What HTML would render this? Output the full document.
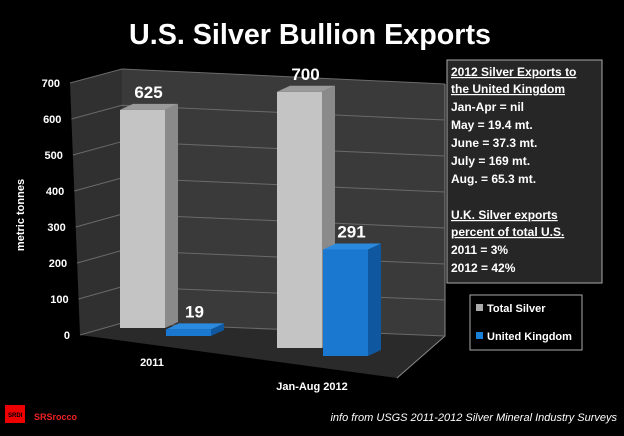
<!DOCTYPE html>
<html><head><meta charset="utf-8"><style>
body{margin:0;background:#000;width:624px;height:431px;overflow:hidden;font-family:"Liberation Sans",sans-serif}
svg text{font-family:"Liberation Sans",sans-serif}
</style></head><body>
<svg width="624" height="431" viewBox="0 0 624 431">
<text x="310" y="44" text-anchor="middle" font-size="29" font-weight="bold" fill="#fff" textLength="362" lengthAdjust="spacingAndGlyphs">U.S. Silver Bullion Exports</text>
<g id="walls"></g>
<g id="ticks"></g>
<g id="bars"></g>
<text transform="translate(24,215) rotate(-90)" text-anchor="middle" font-size="11" font-weight="bold" fill="#fff">metric tonnes</text>
<text x="152" y="366" text-anchor="middle" font-size="11" font-weight="bold" fill="#fff">2011</text>
<text x="312" y="390" text-anchor="middle" font-size="11" font-weight="bold" fill="#fff">Jan-Aug 2012</text>
<g>
<rect x="447" y="60" width="155" height="223" fill="#262626" stroke="#aaa" stroke-width="1"/>
<g font-size="12" font-weight="bold" fill="#fff">
<text x="451" y="76" text-decoration="underline">2012 Silver Exports to</text>
<text x="451" y="93" text-decoration="underline">the United Kingdom</text>
<text x="451" y="111">Jan-Apr = nil</text>
<text x="451" y="129">May = 19.4 mt.</text>
<text x="451" y="147">June = 37.3 mt.</text>
<text x="451" y="165">July = 169 mt.</text>
<text x="451" y="183">Aug. = 65.3 mt.</text>
<text x="451" y="219" text-decoration="underline">U.K. Silver exports</text>
<text x="451" y="236" text-decoration="underline">percent of total U.S.</text>
<text x="451" y="254">2011 = 3%</text>
<text x="451" y="272">2012 = 42%</text>
</g></g>
<g>
<rect x="470" y="295" width="112" height="55" fill="#000" stroke="#aaa"/>
<rect x="476" y="304" width="7" height="7" fill="#aaa"/>
<text x="487" y="312" font-size="11" font-weight="bold" fill="#fff">Total Silver</text>
<rect x="476" y="332" width="7" height="7" fill="#1a7fd6"/>
<text x="487" y="340" font-size="11" font-weight="bold" fill="#fff">United Kingdom</text>
</g>
<g>
<rect x="5" y="405" width="20" height="18" fill="#e00"/>
<text x="8" y="417" font-size="6" font-weight="bold" fill="#000">SRDI</text>
<text x="34" y="420" font-size="9" font-weight="bold" fill="#e22">SRSrocco</text>
</g>
<text x="617" y="421" text-anchor="end" font-size="11" font-style="italic" fill="#fff">info from  USGS 2011-2012 Silver Mineral Industry Surveys</text>
</svg>
<script>
const categories=["2011","Jan-Aug 2012"];
const totalSilver=[625,700];
const unitedKingdom=[19,291];
const tickLabels=[0,100,200,300,400,500,600,700];
const NS="http://www.w3.org/2000/svg";
function mk(tag,attrs,parent){const e=document.createElementNS(NS,tag);for(const k in attrs)e.setAttribute(k,attrs[k]);parent.appendChild(e);return e;}
function backY(v,x){const t=(x-122)/(445-122);const yl=323-v*254/700,yr=336-v*252/700;return yl+(yr-yl)*t;}
const walls=document.getElementById('walls');
let w=mk('polygon',{points:"122,69 445,84 445,336 122,323",fill:"#3a3a3a"},walls);

w=mk('polygon',{points:"70,83 122,69 122,323 80,335",fill:"#303030"},walls);

w=mk('polygon',{points:"80,335 122,323 445,336 397,378",fill:"#2a2a2a"},walls);

mk('polyline',{points:"397,378 445,336 445,84",fill:"none",stroke:"#888","stroke-width":1},walls);
const ticks=document.getElementById('ticks');
tickLabels.forEach(v=>{
 const yf=335-v*252/700, xf=80-v*10/700;
 const l=mk('polyline',{points:`${xf},${yf} 122,${backY(v,122)} 445,${backY(v,445)}`,fill:"none",stroke:"#6a6a6a","stroke-width":1},ticks);
 
 const t=mk('text',{x:xf-10,y:yf+4,"text-anchor":"end","font-size":11,"font-weight":"bold",fill:"#fff"},ticks);
 t.textContent=v;
 
});
const bars=document.getElementById('bars');
const groups=[{x:120,base:328,s:0.349},{x:277,base:348,s:0.366}];
function bar(x,base,h,front,side,top,name,val){
 const w=45,d=13,dy=6;
 const g=mk('g',{},bars);
 
 mk('polygon',{points:`${x+w},${base-h} ${x+w+d},${base-h-dy} ${x+w+d},${base-dy} ${x+w},${base}`,fill:side},g);
 mk('polygon',{points:`${x},${base-h} ${x+d},${base-h-dy} ${x+w+d},${base-h-dy} ${x+w},${base-h}`,fill:top},g);
 mk('rect',{x:x,y:base-h,width:w,height:h,fill:front},g);
 const t=mk('text',{x:x+w/2+6,y:base-h-12,"text-anchor":"middle","font-size":17,"font-weight":"bold",fill:"#fff"},bars);
 t.textContent=val;
 
}
categories.forEach((c,i)=>{
 const g=groups[i];
 bar(g.x,g.base,totalSilver[i]*g.s,"#c4c4c4","#8a8a8a","#9a9a9a",'bar-total-'+i,totalSilver[i]);
 bar(g.x+46,g.base+8,Math.max(unitedKingdom[i]*g.s,4),"#1a78d0","#0f58a0","#2a8ae0",'bar-uk-'+i,unitedKingdom[i]);
});
</script>
</body></html>
